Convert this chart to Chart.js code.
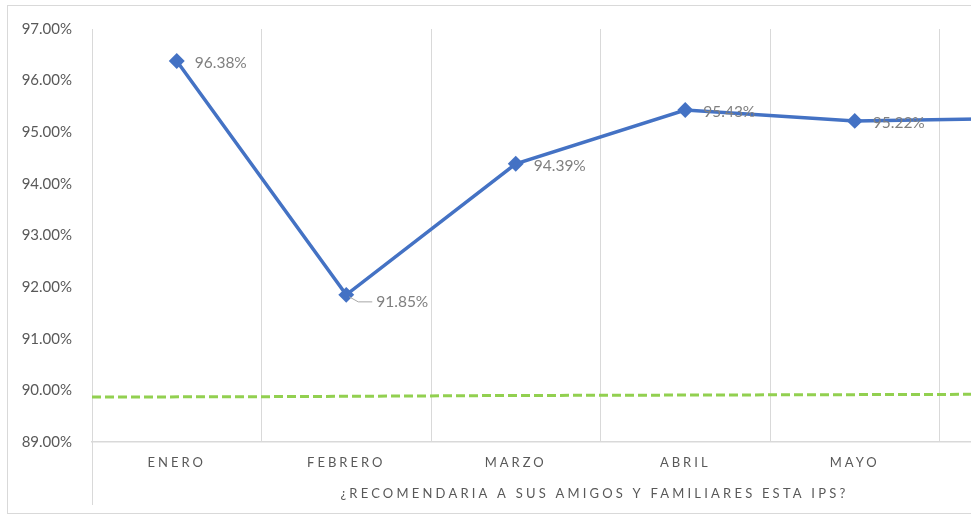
<!DOCTYPE html>
<html>
<head>
<meta charset="utf-8">
<script src="https://cdn.jsdelivr.net/npm/chart.js@4.4.1/dist/chart.umd.min.js"></script>
<style>
  html, body { margin: 0; padding: 0; background: #ffffff; overflow: hidden; }
  body { width: 971px; height: 517px; position: relative; }
  #marco {
    position: absolute; left: 7px; top: 5px; width: 1200px; height: 509px;
    border: 1px solid #d9d9d9; box-sizing: border-box;
  }
  #caja { position: absolute; left: 0; top: 0; width: 1140px; height: 517px; }
</style>
</head>
<body>
<div id="marco"></div>
<div id="caja"><canvas id="grafico-recomendacion"></canvas></div>
<script>
var meses = ["ENERO", "FEBRERO", "MARZO", "ABRIL", "MAYO", "JUNIO"];
var recomendacion = [96.38, 91.85, 94.39, 95.43, 95.22, 95.27];
var meta = [89.87, 89.88, 89.9, 89.91, 89.92, 89.93];
var tituloEje = "¿RECOMENDARIA A SUS AMIGOS Y FAMILIARES ESTA IPS?";

var etiquetasPlugin = {
  id: "etiquetas",
  afterDatasetsDraw: function (chart) {
    var ctx = chart.ctx;
    var puntos = chart.getDatasetMeta(0).data;
    ctx.save();
    ctx.font = "15.5px Lato";
    ctx.fillStyle = "#7f7f7f";
    ctx.textBaseline = "middle";
    ctx.textAlign = "left";
    puntos.forEach(function (p, i) {
      var texto = recomendacion[i].toFixed(2) + "%";
      if (i === 1) {
        ctx.strokeStyle = "#a6a6a6";
        ctx.lineWidth = 1;
        ctx.beginPath();
        ctx.moveTo(p.x + 3, p.y + 2);
        ctx.lineTo(p.x + 12, p.y + 7);
        ctx.lineTo(p.x + 26, p.y + 7);
        ctx.stroke();
        ctx.fillText(texto, p.x + 30, p.y + 7);
      } else {
        ctx.fillText(texto, p.x + 18, p.y + 2);
      }
    });

    // etiquetas de categoria con espaciado
    var x = chart.scales.x;
    ctx.fillStyle = "#595959";
    ctx.font = "13px Lato";
    ctx.letterSpacing = "3px";
    meses.forEach(function (m, i) {
      var w = ctx.measureText(m).width;
      ctx.fillText(m, x.getPixelForValue(i) - w / 2, 463);
    });
    ctx.letterSpacing = "3.2px";
    var wt = ctx.measureText(tituloEje).width;
    ctx.fillText(tituloEje, (x.left + x.right) / 2 - 6 - wt / 2, 494);

    // linea del eje de categorias que baja
    ctx.strokeStyle = "#d9d9d9";
    ctx.lineWidth = 1;
    ctx.beginPath();
    ctx.moveTo(x.left + 0.5, x.top);
    ctx.lineTo(x.left + 0.5, 505);
    ctx.stroke();
    ctx.restore();
  },
};

var graficoRecomendacion = document
 .getElementById("grafico-recomendacion")
 .getContext("2d");

new Chart(graficoRecomendacion, {
  type: "line",
  data: {
    labels: meses,
    datasets: [
      {
        label: "Recomendación",
        data: recomendacion,
        borderColor: "#4472C4",
        backgroundColor: "#4472C4",
        borderWidth: 3.5,
        pointStyle: "rectRot",
        pointRadius: 5.5,
        pointHoverRadius: 5.5,
        tension: 0,
        xAxisID: "x",
      },
      {
        label: "Meta",
        data: meta,
        borderColor: "#92D050",
        borderWidth: 3,
        borderDash: [9, 4],
        pointRadius: 0,
        tension: 0,
        xAxisID: "x2",
      },
    ],
  },
  options: {
    responsive: true,
    maintainAspectRatio: false,
    animation: false,
    layout: {
      padding: { top: 28, right: 31, bottom: 0, left: 0 },
    },
    plugins: {
      title: { display: false },
      legend: { display: false },
      tooltip: { enabled: false },
    },
    scales: {
      x: {
        type: "category",
        offset: true,
        grid: {
          color: "#d9d9d9",
          lineWidth: 1,
          drawTicks: false,
          offset: true,
        },
        border: { color: "#d9d9d9", width: 1.5 },
        ticks: { display: false },
        afterFit: function (scale) {
          scale.height = 75;
        },
      },
      x2: {
        type: "category",
        labels: meses,
        offset: false,
        display: false,
      },
      y: {
        min: 89,
        max: 97,
        grid: { display: false, drawTicks: false },
        border: { display: false },
        ticks: {
          stepSize: 1,
          padding: 20,
          color: "#595959",
          font: { family: "Lato", size: 15 },
          callback: function (v) {
            return v.toFixed(2) + "%";
          },
        },
        afterFit: function (scale) {
          scale.width = 92;
        },
      },
    },
  },
  plugins: [etiquetasPlugin],
});
</script>
</body>
</html>
